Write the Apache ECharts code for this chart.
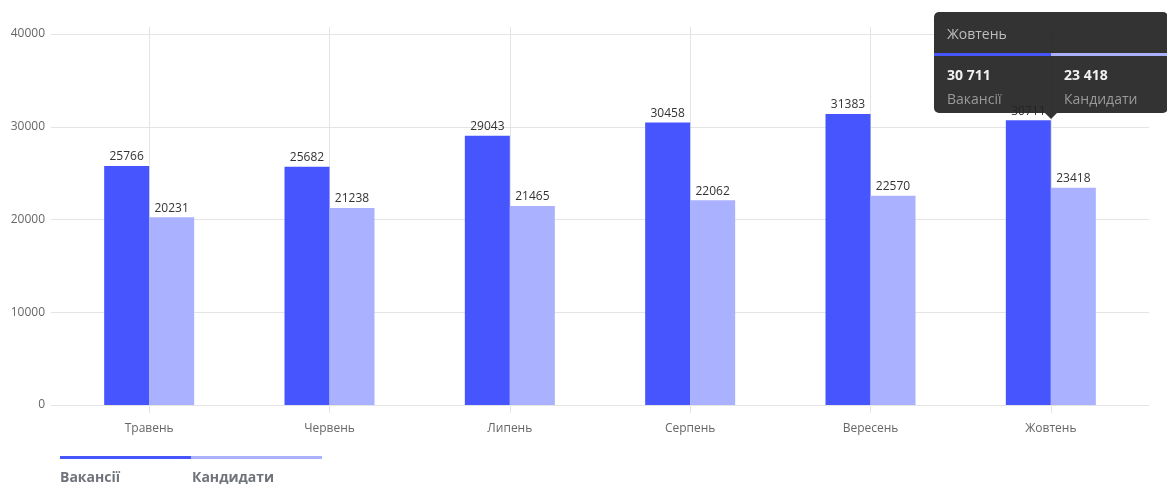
<!DOCTYPE html>
<html>
<head>
<meta charset="utf-8">
<script src="https://cdn.jsdelivr.net/npm/echarts@6/dist/echarts.min.js"></script>
<style>
html,body{margin:0;padding:0;background:#fff;overflow:hidden;}
#chart{width:1167px;height:484px;}
</style>
</head>
<body>
<div id="chart"></div>
<script>
const categories = ['Травень', 'Червень', 'Липень', 'Серпень', 'Вересень', 'Жовтень'];
const seriesNames = ['Вакансії', 'Кандидати'];
const vacancies = [25766, 25682, 29043, 30458, 31383, 30711];
const candidates = [20231, 21238, 21465, 22062, 22570, 23418];
const yTicks = [0, 10000, 20000, 30000, 40000];
const colors = ['#4755ff', '#aab1ff'];
const tipIndex = 5;

const FONT = "'Open Sans', 'Noto Sans', sans-serif";
const GRIDC = '#e4e4e4';

function fmt(v){ return String(v).replace(/\B(?=(\d{3})+(?!\d))/g, ' '); }

const chart = echarts.init(document.getElementById('chart'), null, {renderer:'canvas'});

const seriesData = [vacancies, candidates];

const legendGraphics = [];
seriesNames.forEach((n, i) => {
  legendGraphics.push({
    type: 'rect', left: 60 + i * 131, top: 456,
    shape: {width: 131, height: 3}, style: {fill: colors[i]}
  });
  legendGraphics.push({
    type: 'text', left: 60 + i * 132, top: 471,
    style: {text: n, fill: '#6f737a', font: "bold 14px " + FONT}
  });
});

const option = {
  animation: false,
  textStyle: {fontFamily: FONT},
  grid: [
    {left: 59, right: 26, top: 34, bottom: 79, containLabel: false},
    {left: 59, right: 26, top: 27, bottom: 71, containLabel: false}
  ],
  tooltip: {
    trigger: 'axis',
    axisPointer: {type: 'none'},
    alwaysShowContent: true,
    transitionDuration: 0,
    padding: 0,
    borderWidth: 0,
    borderRadius: 5,
    backgroundColor: 'rgba(34,34,34,0.92)',
    extraCssText: 'box-shadow:none;',
    formatter: function(params){
      const idx = params[0].dataIndex;
      let cols = '';
      seriesNames.forEach((n, i) => {
        const left = i * 117;
        cols += '<div style="position:absolute;left:' + left + 'px;top:41px;width:117px;height:3px;background:' + colors[i] + '"></div>';
        cols += '<div style="position:absolute;left:' + (left + 13) + 'px;top:52px;font:bold 14px ' + FONT + ';color:#f2f2f2;line-height:22px;">' + fmt(seriesData[i][idx]) + '</div>';
        cols += '<div style="position:absolute;left:' + (left + 13) + 'px;top:76px;font:14px ' + FONT + ';color:#9a9a9a;line-height:22px;">' + n + '</div>';
      });
      return '<div style="position:relative;width:234px;height:101px;">' +
        '<div style="position:absolute;left:13px;top:11px;font:14px ' + FONT + ';color:#bdbdbd;line-height:22px;">' + categories[idx] + '</div>' +
        cols +
        '<div style="position:absolute;left:111px;top:101px;width:0;height:0;border-left:6px solid transparent;border-right:6px solid transparent;border-top:6px solid rgba(34,34,34,0.92);"></div>' +
        '</div>';
    },
    position: function(point, params, dom, rect, size){
      const idx = params[0].dataIndex;
      const cx = chart.convertToPixel({xAxisIndex: 0}, categories[idx]);
      const maxV = Math.max(vacancies[idx], candidates[idx]);
      const by = chart.convertToPixel({yAxisIndex: 0}, maxV);
      return [cx - size.contentSize[0] / 2, by - 7 - size.contentSize[1]];
    }
  },
  xAxis: [{
    type: 'category',
    gridIndex: 0,
    data: categories,
    position: 'bottom',
    axisLine: {show: false},
    axisTick: {show: false},
    axisLabel: {color: '#666', fontSize: 12, margin: 18, fontFamily: FONT},
    splitLine: {show: false}
  }, {
    type: 'category',
    gridIndex: 1,
    data: categories,
    position: 'bottom',
    axisLine: {show: false},
    axisTick: {show: false},
    axisLabel: {show: false},
    splitLine: {show: true, alignWithLabel: true, lineStyle: {color: GRIDC, width: 1}}
  }],
  yAxis: [{
    type: 'value',
    gridIndex: 0,
    min: yTicks[0], max: yTicks[yTicks.length - 1], interval: yTicks[1] - yTicks[0],
    axisLine: {show: false},
    axisTick: {show: true, length: 8, lineStyle: {color: GRIDC}},
    axisLabel: {color: '#666', fontSize: 12, margin: 14, fontFamily: FONT, formatter: v => String(v)},
    splitLine: {show: true, lineStyle: {color: GRIDC, width: 1}}
  }, {
    type: 'value',
    gridIndex: 0,
    position: 'right',
    min: yTicks[0], max: yTicks[yTicks.length - 1], interval: yTicks[1] - yTicks[0],
    axisLine: {show: false},
    axisTick: {show: true, length: 8, lineStyle: {color: GRIDC}},
    axisLabel: {show: false},
    splitLine: {show: false}
  }, {
    type: 'value',
    gridIndex: 1,
    show: false,
    min: 0, max: 1
  }],
  series: seriesNames.map((n, i) => ({
    name: n,
    type: 'bar',
    xAxisIndex: 0,
    yAxisIndex: 0,
    data: seriesData[i],
    barWidth: 45,
    barGap: '0%',
    itemStyle: {color: colors[i]},
    label: {show: true, position: 'top', distance: 3, color: '#333', fontSize: 12, fontFamily: FONT},
    emphasis: {disabled: true}
  })),
  graphic: legendGraphics
};

chart.setOption(option);
chart.dispatchAction({type: 'showTip', seriesIndex: 0, dataIndex: tipIndex});
</script>
</body>
</html>
